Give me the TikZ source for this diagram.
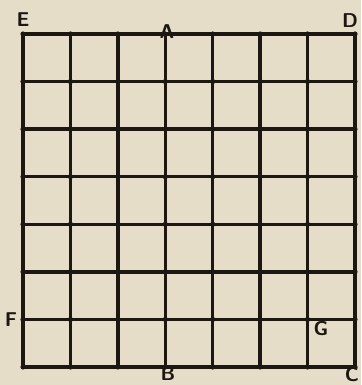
\documentclass[tikz,border=0pt]{standalone}
\usepackage{xcolor}
\usepackage{tikz}
\usetikzlibrary{positioning, backgrounds}

\definecolor{paper}{HTML}{E6DDC8}
\definecolor{ink}{HTML}{1C1712}

\begin{document}
\begin{tikzpicture}[
    x=1pt, y=-1pt,
    gridline/.style={line width=3.4pt, color=ink, line cap=round},
    corner/.style={text=ink, font=\sffamily\bfseries\fontsize{20}{20}\selectfont, inner sep=0pt}
]
\fill[paper] (0,0) rectangle (361,385);
\useasboundingbox (0,0) rectangle (361,385);
% the grid, 7 by 7 squares
\foreach \i in {0,...,7} {
    \draw[gridline] ({23+47.43*\i},34) -- ({23+47.43*\i},367);
    \draw[gridline] (23,{34+47.57*\i}) -- (355,{34+47.57*\i});
    \foreach \j in {0,...,7}
        \fill[ink] ({23+47.43*\i},{34+47.57*\j}) circle (2.6pt);
}
\node[corner] (e) at (23,20) {E};
\node[corner] (a) at (167,32) {A};
\node[corner] (d) at (350,21) {D};
\node[corner] (f) at (11,320) {F};
\node[corner] (g) at (321,329) {G};
\node[corner] (b) at (168,374) {B};
\node[corner] (c) at (352,375) {C};
\end{tikzpicture}
\end{document}
